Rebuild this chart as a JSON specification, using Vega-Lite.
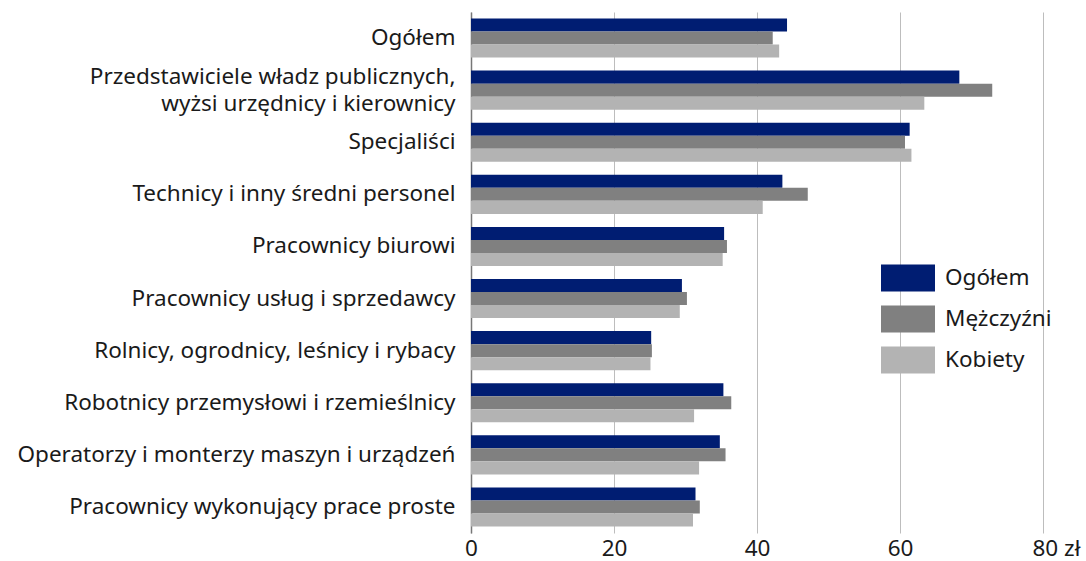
{
  "$schema": "https://vega.github.io/schema/vega-lite/v6.json",
  "autosize": {"type": "none"},
  "padding": {"left": 471, "top": 12, "right": 43, "bottom": 28},
  "width": 572,
  "height": 521,
  "background": "white",
  "config": {
    "font": "Noto Sans",
    "view": {"stroke": null}
  },
  "data": {
    "values": [
      {"kategoria": "Ogółem", "seria": "Ogółem", "wartosc": 44.2},
      {"kategoria": "Ogółem", "seria": "Mężczyźni", "wartosc": 42.2},
      {"kategoria": "Ogółem", "seria": "Kobiety", "wartosc": 43.1},
      {"kategoria": "Przedstawiciele władz publicznych,|wyżsi urzędnicy i kierownicy", "seria": "Ogółem", "wartosc": 68.3},
      {"kategoria": "Przedstawiciele władz publicznych,|wyżsi urzędnicy i kierownicy", "seria": "Mężczyźni", "wartosc": 72.9},
      {"kategoria": "Przedstawiciele władz publicznych,|wyżsi urzędnicy i kierownicy", "seria": "Kobiety", "wartosc": 63.4},
      {"kategoria": "Specjaliści", "seria": "Ogółem", "wartosc": 61.35},
      {"kategoria": "Specjaliści", "seria": "Mężczyźni", "wartosc": 60.7},
      {"kategoria": "Specjaliści", "seria": "Kobiety", "wartosc": 61.6},
      {"kategoria": "Technicy i inny średni personel", "seria": "Ogółem", "wartosc": 43.55},
      {"kategoria": "Technicy i inny średni personel", "seria": "Mężczyźni", "wartosc": 47.1},
      {"kategoria": "Technicy i inny średni personel", "seria": "Kobiety", "wartosc": 40.8},
      {"kategoria": "Pracownicy biurowi", "seria": "Ogółem", "wartosc": 35.4},
      {"kategoria": "Pracownicy biurowi", "seria": "Mężczyźni", "wartosc": 35.8},
      {"kategoria": "Pracownicy biurowi", "seria": "Kobiety", "wartosc": 35.2},
      {"kategoria": "Pracownicy usług i sprzedawcy", "seria": "Ogółem", "wartosc": 29.5},
      {"kategoria": "Pracownicy usług i sprzedawcy", "seria": "Mężczyźni", "wartosc": 30.2},
      {"kategoria": "Pracownicy usług i sprzedawcy", "seria": "Kobiety", "wartosc": 29.2},
      {"kategoria": "Rolnicy, ogrodnicy, leśnicy i rybacy", "seria": "Ogółem", "wartosc": 25.2},
      {"kategoria": "Rolnicy, ogrodnicy, leśnicy i rybacy", "seria": "Mężczyźni", "wartosc": 25.3},
      {"kategoria": "Rolnicy, ogrodnicy, leśnicy i rybacy", "seria": "Kobiety", "wartosc": 25.1},
      {"kategoria": "Robotnicy przemysłowi i rzemieślnicy", "seria": "Ogółem", "wartosc": 35.3},
      {"kategoria": "Robotnicy przemysłowi i rzemieślnicy", "seria": "Mężczyźni", "wartosc": 36.4},
      {"kategoria": "Robotnicy przemysłowi i rzemieślnicy", "seria": "Kobiety", "wartosc": 31.2},
      {"kategoria": "Operatorzy i monterzy maszyn i urządzeń", "seria": "Ogółem", "wartosc": 34.8},
      {"kategoria": "Operatorzy i monterzy maszyn i urządzeń", "seria": "Mężczyźni", "wartosc": 35.6},
      {"kategoria": "Operatorzy i monterzy maszyn i urządzeń", "seria": "Kobiety", "wartosc": 31.9},
      {"kategoria": "Pracownicy wykonujący prace proste", "seria": "Ogółem", "wartosc": 31.4},
      {"kategoria": "Pracownicy wykonujący prace proste", "seria": "Mężczyźni", "wartosc": 32.0},
      {"kategoria": "Pracownicy wykonujący prace proste", "seria": "Kobiety", "wartosc": 31.05}
    ]
  },
  "mark": {"type": "bar", "stroke": null},
  "encoding": {
    "y": {
      "field": "kategoria",
      "type": "nominal",
      "sort": null,
      "scale": {"paddingInner": 0.25, "paddingOuter": 0.125},
      "axis": {
        "title": null,
        "labelExpr": "split(datum.label, '|')",
        "labelOffset": {"condition": {"test": "indexof(datum.value, '|') >= 0", "value": -13.5}, "value": 0},
        "labelFontSize": 22.5,
        "labelColor": "#1a1a1a",
        "labelPadding": 16,
        "labelLineHeight": 27,
        "labelLimit": 0,
        "ticks": false,
        "domain": true,
        "domainColor": "#777777",
        "domainWidth": 1.5,
        "grid": false
      }
    },
    "yOffset": {
      "field": "seria",
      "type": "nominal",
      "sort": ["Ogółem", "Mężczyźni", "Kobiety"]
    },
    "x": {
      "field": "wartosc",
      "type": "quantitative",
      "scale": {"domain": [0, 80], "nice": false},
      "axis": {
        "title": null,
        "values": [0, 20, 40, 60, 80],
        "labelExpr": "datum.value == 80 ? '80 zł' : datum.label",
        "labelAlign": {"condition": {"test": "datum.value == 80", "value": "left"}, "value": "center"},
        "labelOffset": {"condition": {"test": "datum.value == 80", "value": -11}, "value": 0},
        "labelFontSize": 22.5,
        "labelColor": "#1a1a1a",
        "labelPadding": 4,
        "domain": false,
        "ticks": false,
        "grid": true,
        "gridColor": "#bdbdbd",
        "gridWidth": 1
      }
    },
    "color": {
      "field": "seria",
      "type": "nominal",
      "sort": ["Ogółem", "Mężczyźni", "Kobiety"],
      "scale": {"domain": ["Ogółem", "Mężczyźni", "Kobiety"], "range": ["#001d72", "#808080", "#b3b3b3"]},
      "legend": {
        "title": null,
        "orient": "none",
        "legendX": 410,
        "legendY": 239,
        "padding": 0,
        "symbolType": "M-1,-0.5H1V0.5H-1Z",
        "symbolSize": 2916,
        "symbolStrokeWidth": 0,
        "labelFontSize": 22.5,
        "labelColor": "#1a1a1a",
        "labelOffset": 10,
        "rowPadding": 0
      }
    }
  }
}
